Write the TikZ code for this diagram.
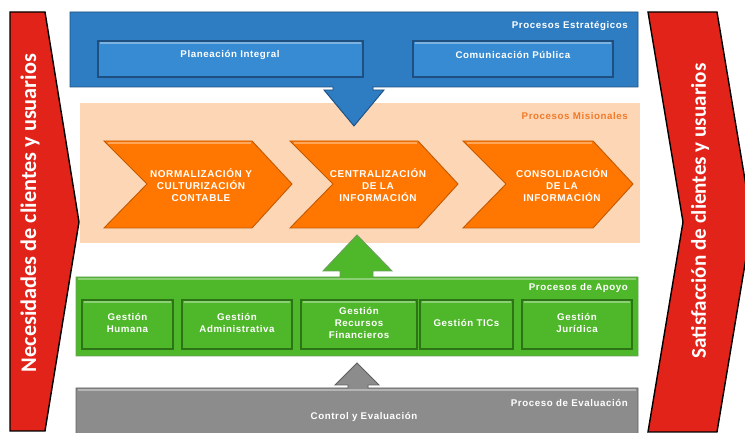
\documentclass[tikz,border=0pt]{standalone}
\usepackage{fontspec}
\setmainfont{Liberation Sans}
\newfontfamily\sideFont{Carlito}
\newfontfamily\boxFont[LetterSpace=6]{Liberation Sans}

\definecolor{stratBlue}{HTML}{2E7CC1}
\definecolor{stratDark}{HTML}{1D4F80}
\definecolor{subBlue}{HTML}{378BD2}
\definecolor{misPeach}{HTML}{FDD6B6}
\definecolor{misOrange}{HTML}{FF7700}
\definecolor{misDark}{HTML}{C45A00}
\definecolor{misTitle}{HTML}{F07A2A}
\definecolor{apoGreen}{HTML}{4FB82A}
\definecolor{apoDark}{HTML}{2C7416}
\definecolor{evalGray}{HTML}{8C8C8C}
\definecolor{evalDark}{HTML}{5F5F5F}
\definecolor{sideRed}{HTML}{E2231A}

\newcommand\procLeft{76}
\newcommand\procRight{638}
\newcommand\titleX{632}
\newcommand\chevTip{40}

\tikzset{
  sidearrow/.style={fill=sideRed, draw=black, line width=1.2pt, line join=miter},
  sidetext/.style={text=white, font=\sideFont\bfseries\fontsize{19}{21}\selectfont, rotate=90},
  layertitle/.style={anchor=east, text=white, font=\boxFont\bfseries\fontsize{8.3}{9}\selectfont},
  boxtext/.style={text=white, align=center, font=\boxFont\bfseries\fontsize{8.3}{10.2}\selectfont},
  chevtext/.style={text=white, align=center, font=\boxFont\bfseries\fontsize{8.5}{10.2}\selectfont},
  bluesub/.style={fill=subBlue, draw=stratDark, line width=1.4pt},
  greensub/.style={fill=apoGreen, draw=apoDark, line width=1.4pt},
  highlight/.style={draw=white, opacity=0.35, line width=1pt},
  chevron/.style={fill=misOrange, draw=misDark, line width=0.8pt, line join=miter}
}

\begin{document}
\begin{tikzpicture}[x=0.03cm, y=-0.03cm]
    \useasboundingbox (0,0) rectangle (745,433);
    \clip (0,0) rectangle (745,433);

    % NEEDS AND SATISFACTION
    \filldraw[sidearrow] (10,12) -- (45,12) -- (79,222) -- (45,431) -- (10,431) -- cycle;
    \node[sidetext] (necesidades) at (30,213) {Necesidades de clientes y usuarios};
    \filldraw[sidearrow] (648,12) -- (717,12) -- (752,222) -- (717,432) -- (648,432) -- (683,222) -- cycle;
    \node[sidetext, font=\sideFont\bfseries\fontsize{18}{20}\selectfont] (satisfaccion) at (700,211) {Satisfacción de clientes y usuarios};

    % MISIONALES
    \fill[misPeach] (80,103) rectangle (640,243);
    \node[layertitle, text=misTitle] (misionales) at (\titleX,116) {Procesos Misionales};

    \foreach \xa/\xb/\xt/\nm/\txt in {104/252/201/normalizacion/{NORMALIZACIÓN Y\\CULTURIZACIÓN\\CONTABLE},
                                      290/418/378/centralizacion/{CENTRALIZACIÓN\\DE LA\\INFORMACIÓN},
                                      463/593/562/consolidacion/{CONSOLIDACIÓN\\DE LA\\INFORMACIÓN}}{
      \filldraw[chevron] (\xa,141) -- (\xb,141) -- (\xb+\chevTip,184) -- (\xb,228) -- (\xa,228) -- (\xa+\chevTip+3,184) -- cycle;
      \draw[highlight] (\xa+4,143) -- (\xb-1,143);
      \node[chevtext] (\nm) at (\xt,185) {\txt};
    }

    % ESTRATEGICOS with the arrow down
    \filldraw[fill=stratBlue, draw=stratDark, line width=0.8pt] (70,12) -- (\procRight,12) -- (\procRight,87) -- (373,87) -- (373,90) -- (384,90)
      -- (354,126) -- (324,90) -- (333,90) -- (333,87) -- (70,87) -- cycle;
    \node[layertitle] (estrategicos) at (\titleX,26) {Procesos Estratégicos};
    \filldraw[bluesub] (98,41) rectangle (363,77);
    \draw[highlight] (100,43) -- (361,43);
    \node[boxtext] (planeacion) at (230,55) {Planeación Integral};
    \filldraw[bluesub] (413,41) rectangle (613,77);
    \draw[highlight] (415,43) -- (611,43);
    \node[boxtext] (comunicacion) at (513,55) {Comunicación Pública};

    % APOYO with the arrow up
    \filldraw[fill=apoGreen, draw=apoDark!70, line width=0.8pt] (\procLeft,277) -- (340,277) -- (340,271) -- (323,271) -- (357,235) -- (392,271)
      -- (373,271) -- (373,277) -- (\procRight,277) -- (\procRight,356) -- (\procLeft,356) -- cycle;
    \draw[highlight] (\procLeft+2,279) -- (\procRight-2,279);
    \node[layertitle] (apoyo) at (\titleX,288) {Procesos de Apoyo};

    \foreach \xa/\xb/\nm/\txt in {82/173/humana/{Gestión\\Humana},
                                  182/292/administrativa/{Gestión\\Administrativa},
                                  301/417/financieros/{Gestión\\Recursos\\Financieros},
                                  420/513/tics/{Gestión TICs},
                                  522/632/juridica/{Gestión\\Jurídica}}{
      \filldraw[greensub] (\xa,300) rectangle (\xb,349);
      \draw[highlight] (\xa+2,302) -- (\xb-2,302);
      \node[boxtext] (\nm) at ({(\xa+\xb)/2},323) {\txt};
    }

    % EVALUACION with the arrow up
    \filldraw[fill=evalGray, draw=evalDark, line width=0.8pt] (\procLeft,388) -- (348,388) -- (348,385) -- (335,385) -- (357,363) -- (379,385)
      -- (368,385) -- (368,388) -- (\procRight,388) -- (\procRight,440) -- (\procLeft,440) -- cycle;
    \draw[highlight] (\procLeft+2,390) -- (\procRight-2,390);
    \node[layertitle] (evaluacion) at (\titleX,403) {Proceso de Evaluación};
    \node[boxtext] (control) at (364,417) {Control y Evaluación};

\end{tikzpicture}
\end{document}
